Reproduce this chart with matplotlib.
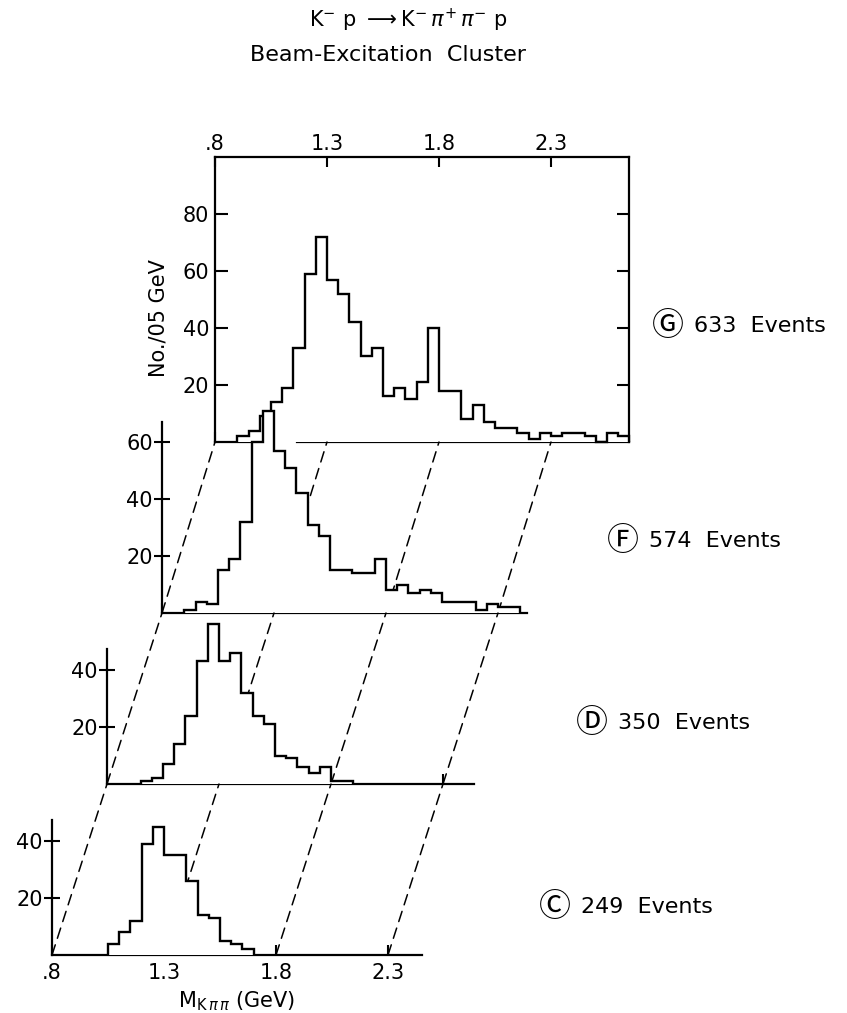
import numpy as np
import matplotlib
matplotlib.use("Agg")
import matplotlib.pyplot as plt
from matplotlib.patches import ConnectionPatch

plt.rcParams["font.family"] = ["DejaVu Sans", "Noto Sans CJK JP"]
plt.rcParams["mathtext.fontset"] = "dejavusans"

# ---- data: events per 0.05 GeV bin, first bin starting at *_start (GeV) ----
BIN = 0.05
c_start = 1.05
c_counts = [4, 8, 12, 39, 45, 35, 35, 26, 14, 13, 5, 4, 2]
d_start = 0.95
d_counts = [1, 2, 7, 14, 24, 43, 56, 43, 46, 32, 24, 21, 10, 9, 6, 4, 6, 1, 1]
f_start = 0.90
f_counts = [1, 4, 3, 15, 19, 32, 60, 71, 57, 51, 42, 31, 27, 15, 15, 14, 14,
            19, 8, 10, 7, 8, 7, 4, 4, 4, 1, 3, 2, 2]
g_start = 0.90
g_counts = [2, 4, 9, 14, 19, 33, 59, 72, 57, 52, 42, 30, 33, 16, 19, 15, 21,
            40, 18, 18, 8, 13, 7, 5, 5, 3, 1, 3, 2, 3, 3, 2, 0, 3, 2]

panel_names = ["C", "D", "F", "G"]
panel_events = [249, 350, 574, 633]
circled = {"C": "\u24B8", "D": "\u24B9", "F": "\u24BB", "G": "\u24BC"}
mass_ticks = [0.8, 1.3, 1.8, 2.3]
mass_labels = [".8", "1.3", "1.8", "2.3"]

# ---- figure geometry (pixels) ----
W, H, DPI = 847, 1013, 100
SX = 224.0   # px per GeV
SY = 2.85    # px per event
LW = 1.7
FS = 15

fig = plt.figure(figsize=(W / DPI, H / DPI), dpi=DPI)
fig.patch.set_facecolor("white")


def add_panel(x0_px, base_px, xmax, ymax, z):
    rect = [x0_px / W, 1 - base_px / H, (xmax - 0.8) * SX / W, ymax * SY / H]
    ax = fig.add_axes(rect, zorder=z)
    ax.set_xlim(0.8, xmax)
    ax.set_ylim(0, ymax)
    ax.set_facecolor("none")
    for s in ax.spines.values():
        s.set_linewidth(1.6)
    return ax


def draw_hist(ax, start, counts):
    edges = start + BIN * np.arange(len(counts) + 1)
    ax.stairs(counts, edges, baseline=0, fill=True, facecolor="white",
              edgecolor="black", linewidth=LW, clip_on=False, zorder=3)


ax_c = add_panel(52, 955, 2.45, 47.3, 4)
ax_d = add_panel(107, 784, 2.44, 47.4, 3)
ax_f = add_panel(162, 613, 2.43, 67.0, 2)
ax_g = add_panel(215, 442, 2.65, 100.0, 1)

draw_hist(ax_c, c_start, c_counts)
draw_hist(ax_d, d_start, d_counts)
draw_hist(ax_f, f_start, f_counts)
draw_hist(ax_g, g_start, g_counts)

# lower panels: open frame, ticks inside
for ax, yt in [(ax_c, [20, 40]), (ax_d, [20, 40]), (ax_f, [20, 40, 60])]:
    ax.spines["top"].set_visible(False)
    ax.spines["right"].set_visible(False)
    ax.set_yticks(yt)
    ax.set_yticklabels([str(v) for v in yt], fontsize=FS)
    ax.set_xticks(mass_ticks)
    ax.tick_params(axis="x", direction="in", length=7.5, width=1.5, pad=5.5)
    ax.tick_params(axis="y", direction="inout", length=11, width=1.5, pad=1)
    if ax is ax_c:
        ax.set_xticklabels(mass_labels, fontsize=FS)
    else:
        ax.set_xticklabels([])

ax_c.set_xlabel(r"M$_{\mathrm{K}\,\pi\,\pi}$ (GeV)", fontsize=FS, labelpad=5)

# top panel: closed frame, mass scale printed on top
ax_g.set_yticks([20, 40, 60, 80])
ax_g.set_yticklabels(["20", "40", "60", "80"], fontsize=FS)
ax_g.set_xticks(mass_ticks)
ax_g.set_xticklabels(mass_labels, fontsize=FS)
ax_g.tick_params(axis="x", which="both", top=True, bottom=True,
                 labeltop=True, labelbottom=False,
                 direction="in", length=7, width=1.5, pad=2.5)
ax_g.tick_params(axis="y", left=True, right=True, direction="in",
                 length=9, width=1.5, pad=4)
fig.text(158 / W, 1 - 318 / H, "No./05 GeV", fontsize=FS, rotation=90,
         ha="center", va="center")

# bottom edge of the top frame, broken where panel F rises through it
ax_g.spines["bottom"].set_visible(False)
for seg in ([0.8, 0.986], [1.165, 2.65]):
    ax_g.plot(seg, [0, 0], color="black", lw=1.6, clip_on=False,
              solid_capstyle="projecting", zorder=2)

# dashed guide lines joining equal masses on successive baselines
stack = [ax_c, ax_d, ax_f, ax_g]
for lower, upper in zip(stack[:-1], stack[1:]):
    for m in mass_ticks:
        con = ConnectionPatch(xyA=(m, 0), coordsA=lower.transData,
                              xyB=(m, 0), coordsB=upper.transData,
                              linestyle=(0, (7, 4.5)), linewidth=1.1,
                              color="black", clip_on=False, zorder=2)
        lower.add_artist(con)

# event-count labels beside each panel
label_pos = {"G": (652, 326), "F": (607, 541), "D": (576, 723), "C": (539, 907)}
for name, n in zip(panel_names, panel_events):
    x, y = label_pos[name]
    fig.text(x / W, 1 - y / H, circled[name], fontsize=23,
             family=["Noto Sans CJK JP", "DejaVu Sans"],
             ha="left", va="center")
    fig.text((x + 42) / W, 1 - y / H, f"{n}  Events",
             fontsize=16, ha="left", va="center")

# title
fig.text(408 / W, 1 - 20 / H,
         r"K$^{-}$ p $\longrightarrow$K$^{-}\,\pi^{+}\,\pi^{-}$ p",
         fontsize=FS, ha="center", va="center")
fig.text(388 / W, 1 - 55 / H, "Beam-Excitation  Cluster",
         fontsize=16, ha="center", va="center")

fig.savefig("out.png", dpi=DPI, facecolor="white")
